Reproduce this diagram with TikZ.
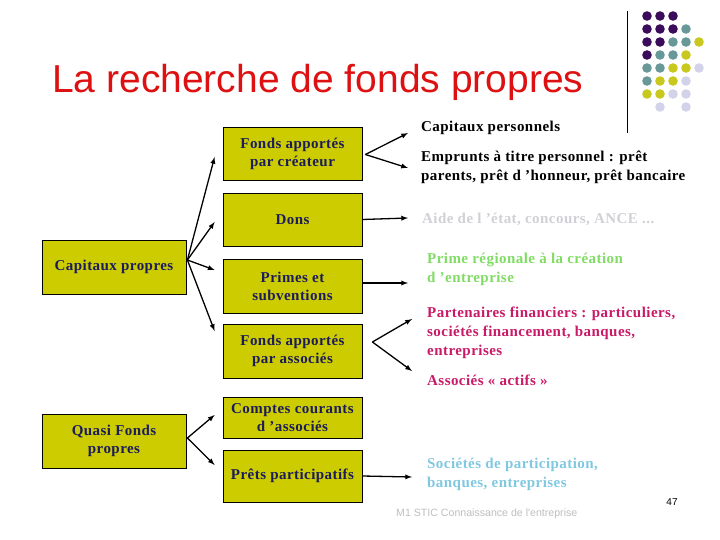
\documentclass[tikz,border=0pt]{standalone}
\usepackage{fontspec}
\setmainfont{Liberation Serif}
\newfontfamily\arialfont{Liberation Sans}
\newfontfamily\slidefont[LetterSpace=3]{Liberation Serif}
\usetikzlibrary{arrows,positioning,calc}
\definecolor{boxolive}{RGB}{204,204,0}
\definecolor{boxtext}{RGB}{28,28,92}
\definecolor{titlered}{RGB}{221,17,17}
\definecolor{aidegray}{RGB}{208,208,214}
\definecolor{primegreen}{RGB}{128,220,100}
\definecolor{partmagenta}{RGB}{200,26,102}
\definecolor{socblue}{RGB}{128,200,224}
\definecolor{footgray}{RGB}{190,190,190}
\definecolor{dotpurple}{RGB}{60,12,92}
\definecolor{dotteal}{RGB}{104,152,152}
\definecolor{dotyellow}{RGB}{200,200,30}
\definecolor{dotlilac}{RGB}{210,210,232}
\tikzset{
  fondbox/.style={draw=black, line width=0.8pt, fill=boxolive, text=boxtext,
    align=center, inner sep=2pt, font=\slidefont\bfseries\fontsize{15}{18}\selectfont},
  sourcetxt/.style={anchor=west, align=left, inner sep=0pt,
    font=\slidefont\bfseries\fontsize{15}{19}\selectfont},
  fleche/.style={->, line width=1.3pt},
}

\begin{document}
\begin{tikzpicture}[x=1pt,y=-1pt,>=latex]
  \useasboundingbox (0,0) rectangle (720,540);

  % titre
  \node[anchor=base west, inner sep=0pt, text=titlered,
    font=\arialfont\fontsize{39}{46}\selectfont] (titre) at (52,93) {La recherche de fonds propres};

  % decor
  \draw[line width=1pt] (627,11) -- (627,133);
  \foreach \r/\lst in {0/{dotpurple,dotpurple,dotpurple},
                       1/{dotpurple,dotpurple,dotpurple,dotteal},
                       2/{dotpurple,dotpurple,dotteal,dotteal,dotyellow},
                       3/{dotpurple,dotteal,dotteal,dotyellow},
                       4/{dotteal,dotteal,dotyellow,dotyellow,dotlilac},
                       5/{dotteal,dotyellow,dotyellow,dotlilac},
                       6/{dotyellow,dotyellow,dotlilac,dotlilac}}
    \foreach \c [count=\i from 0] in \lst
      \fill[\c] (647+13*\i,16+13*\r) circle (4.8);
  \fill[dotlilac] (660,107) circle (4.8);
  \fill[dotlilac] (686,107) circle (4.8);

  % boites
  \node[fondbox, minimum width=144, minimum height=54] (cap) at (114,267) {Capitaux propres};
  \node[fondbox, minimum width=144, minimum height=54] (quasi) at (114,441) {Quasi Fonds\\propres};

  \node[fondbox, minimum width=139, minimum height=53] (crea) at (292.5,153.5) {Fonds apportés\\par créateur};
  \node[fondbox, minimum width=139, minimum height=53] (dons) at (292.5,219.5) {Dons};
  \node[fondbox, minimum width=139, minimum height=54] (prim) at (292.5,286) {Primes et\\subventions};
  \node[fondbox, minimum width=139, minimum height=54] (asso) at (292.5,351) {Fonds apportés\\par associés};
  \node[fondbox, minimum width=139, minimum height=41] (comp) at (292.5,417.5) {Comptes courants\\d ’associés};
  \node[fondbox, minimum width=139, minimum height=52] (pret) at (292.5,476) {Prêts participatifs};

  % sources
  \node[sourcetxt] (cpers) at (421,128) {Capitaux personnels};
  \node[sourcetxt] (empr) at (421,167) {Emprunts à titre personnel : prêt\\parents, prêt d ’honneur, prêt bancaire};
  \node[sourcetxt, text=aidegray] (aide) at (422,219) {Aide de l ’état, concours, ANCE ...};
  \node[sourcetxt, text=primegreen] (prime) at (427,269) {Prime régionale à la création\\d ’entreprise};
  \node[sourcetxt, text=partmagenta] (part) at (427,333) {Partenaires financiers : particuliers,\\sociétés financement, banques,\\entreprises};
  \node[sourcetxt, text=partmagenta] (assoc) at (427,380) {Associés « actifs »};
  \node[sourcetxt, text=socblue] (socpart) at (427,474) {Sociétés de participation,\\banques, entreprises};

  % pied de page
  \node[anchor=west, inner sep=0pt, text=footgray,
    font=\arialfont\fontsize{10.6}{12}\selectfont] (pied) at (396,514) {M1 STIC Connaissance de l'entreprise};
  \node[inner sep=0pt, font=\arialfont\fontsize{10}{12}\selectfont] (num) at (672,502) {47};

  % fleches
  \draw[fleche] ($(cap.east)+(1,-7)$) -- ($(crea.west)+(-8,3.5)$);
  \draw[fleche] ($(cap.east)+(1,-7)$) -- ($(dons.west)+(-8,2.5)$);
  \draw[fleche] ($(cap.east)+(1,-7)$) -- ($(prim.west)+(-8,-16)$);
  \draw[fleche] ($(cap.east)+(1,-7)$) -- ($(asso.west)+(-8,-20)$);
  \draw[fleche] ($(quasi.east)+(1,-3)$) -- ($(comp.west)+(-8,-2.5)$);
  \draw[fleche] ($(quasi.east)+(1,-3)$) -- ($(pret.west)+(-8,-11)$);

  \draw[fleche] ($(crea.east)+(3,1)$) -- ($(cpers.west)+(-13,5)$);
  \draw[fleche] ($(crea.east)+(3,1)$) -- ($(empr.west)+(-13,1)$);
  \draw[fleche] (dons.east) -- ($(aide.west)+(-14,-1)$);
  \draw[fleche] ($(prim.east)+(0,-3)$) -- ($(prime.west)+(-19,14)$);
  \draw[fleche] ($(asso.east)+(10,-9)$) -- ($(part.west)+(-15,-14)$);
  \draw[fleche] ($(asso.east)+(10,-9)$) -- ($(assoc.west)+(-15,-9)$);
  \draw[fleche] (pret.east) -- ($(socpart.west)+(-15,3)$);
\end{tikzpicture}
\end{document}
